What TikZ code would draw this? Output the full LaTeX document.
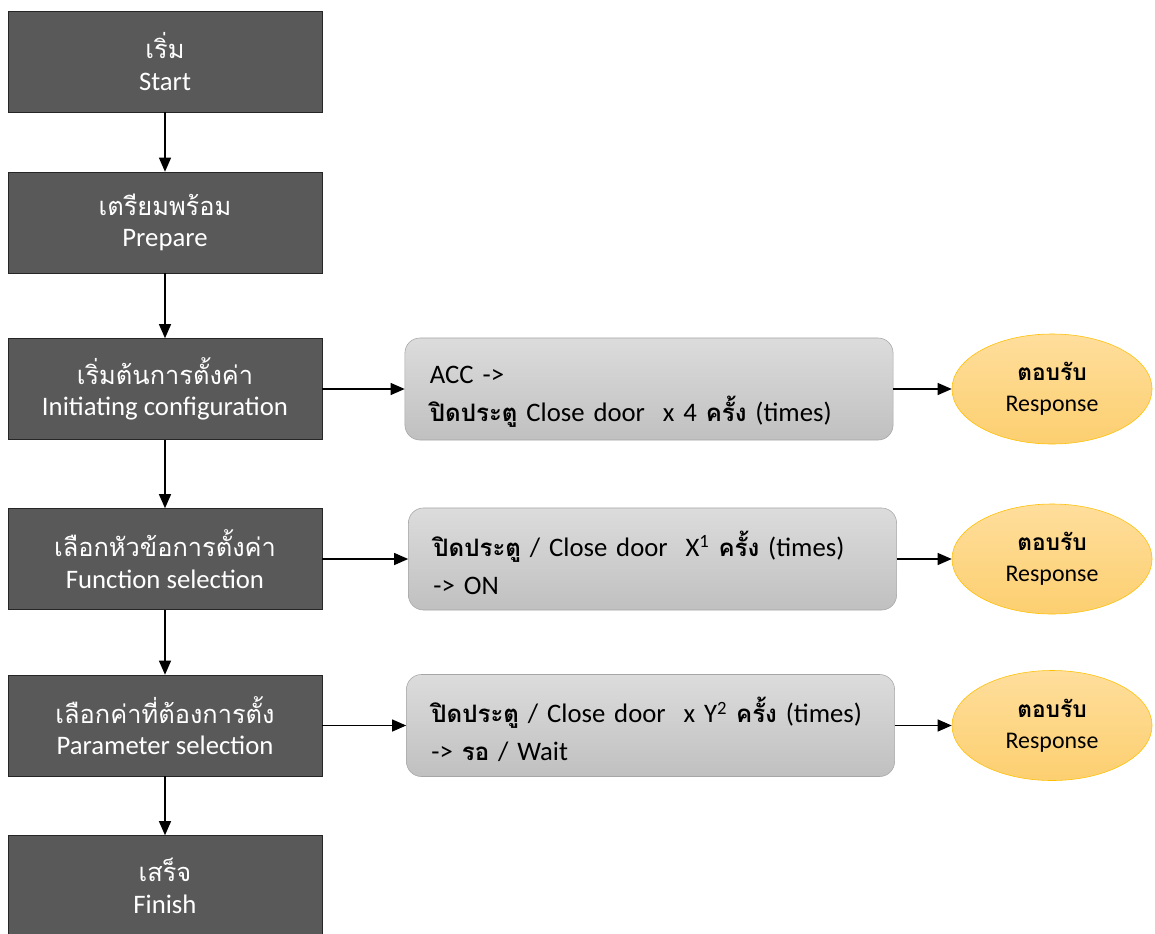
\documentclass[tikz,border=0pt]{standalone}
\usepackage{fontspec}
\setmainfont{Carlito}
\newfontfamily\thai[Script=Thai, Scale=0.95]{Loma}
\newcommand\thaibold{\thai\bfseries\fontsize{18}{27}\selectfont}
\usetikzlibrary{arrows.meta}
\usetikzlibrary{shapes.geometric}
\definecolor{mdark}{HTML}{595959}
\definecolor{mline}{HTML}{262626}
\definecolor{mgraytop}{HTML}{DCDCDC}
\definecolor{mgraybot}{HTML}{C0C0C0}
\definecolor{mgrayline}{HTML}{A6A6A6}
\definecolor{morangetop}{HTML}{FFDE9C}
\definecolor{morangebot}{HTML}{FCCF70}
\definecolor{morangeline}{HTML}{FFC000}
\tikzset{flow/.style = {draw, line width = 0.8pt,
                        -{Triangle[length = 0.35cm, width = 0.3cm]}}}
\tikzset{darkbox/.style = {draw = mline, fill = mdark, text = white, align = center,
                           minimum width = 7.85cm, minimum height = 2.525cm,
                           font = \fontsize{19}{22.5}\selectfont}}
\tikzset{actbox/.style = {draw = mgrayline, top color = mgraytop, bottom color = mgraybot,
                          rounded corners = 0.375cm, align = left,
                          text width = 10.95cm, inner xsep = 0.625cm,
                          minimum height = 2.55cm,
                          execute at begin node = {\rule{0pt}{24pt}},
                          font = \fontsize{19}{27}\selectfont}}
\tikzset{reply/.style = {ellipse, draw = morangeline, top color = morangetop,
                         bottom color = morangebot, inner sep = 0, align = center,
                         minimum width = 5cm, minimum height = 2.75cm,
                         font = \fontsize{17}{22}\selectfont}}

\begin{document}
\begin{tikzpicture}[x = 0.025cm, y = -0.025cm]
    \useasboundingbox (0, 0) rectangle (1155, 933);

    % main steps
    \node [darkbox] (start) at (165, 61.5) {{\thai เริ่ม}\\Start};
    \node [darkbox] (prep) at (165, 222.5) {{\thai เตรียมพร้อม}\\Prepare};
    \node [darkbox] (init) at (165, 389) {{\thai เริ่มต้นการตั้งค่า}\\Initiating configuration};
    \node [darkbox] (func) at (165, 559) {{\thai เลือกหัวข้อการตั้งค่า}\\Function selection};
    \node [darkbox] (param) at (165, 725.5) {{\thai เลือกค่าที่ต้องการตั้ง}\\Parameter selection};
    \node [darkbox] (finish) at (165, 886) {{\thai เสร็จ}\\Finish};

    % actions
    \node [actbox] (act1) at (649, 389)
      {ACC ->\\{\thaibold ปิดประตู} Close door~ x 4 {\thaibold ครั้ง} (times)};
    \node [actbox] (act2) at (652.5, 559)
      {{\thaibold ปิดประตู} / Close door~ X\textsuperscript{1} {\thaibold ครั้ง} (times)\\-> ON};
    \node [actbox] (act3) at (650.5, 725.5)
      {{\thaibold ปิดประตู} / Close door~ x Y\textsuperscript{2} {\thaibold ครั้ง} (times)\\-> {\thaibold รอ} / Wait};

    % responses
    \node [reply] (resp1) at (1052, 389) {{\thai\bfseries ตอบรับ}\\Response};
    \node [reply] (resp2) at (1052, 559) {{\thai\bfseries ตอบรับ}\\Response};
    \node [reply] (resp3) at (1052, 725.5) {{\thai\bfseries ตอบรับ}\\Response};

    \draw [flow] (start) -- (prep);
    \draw [flow] (prep) -- (init);
    \draw [flow] (init) -- (func);
    \draw [flow] (func) -- (param);
    \draw [flow] (param) -- (finish);

    \draw [flow] (init) -- (act1);
    \draw [flow] (func) -- (act2);
    \draw [flow] (param) -- (act3);
    \draw [flow] (act1) -- (resp1);
    \draw [flow] (act2) -- (resp2);
    \draw [flow] (act3) -- (resp3);
\end{tikzpicture}
\end{document}
